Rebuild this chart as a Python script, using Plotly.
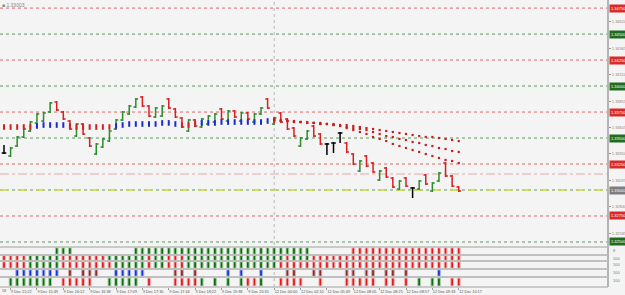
import plotly.graph_objects as go

# ---------------- data ----------------
bar_open = [1.33356,1.33327,1.33423,1.33510,1.33568,1.33645,1.33664,1.33750,1.33847,1.33750,
            1.33664,1.33519,1.33635,1.33500,1.33346,1.33414,1.33471,1.33587,1.33673,1.33731,
            1.33798,1.33895,1.33808,1.33702,1.33712,1.33875,1.33779,1.33693,1.33568,1.33673,
            1.33606,1.33635,1.33654,1.33779,1.33664,1.33760,1.33664,1.33741,1.33654,1.33731,
            1.33875,1.33635,1.33741,1.33683,1.33596,1.33423,1.33491,1.33616,1.33539,1.33443,
            1.33452,1.33548,1.33452,1.33346,1.33183,1.33327,1.33260,1.33096,1.33212,1.33115,
            1.33010,1.33115,1.33019,1.33010,1.33144,1.32990,1.33087,1.33260,1.33135,1.33029]
bar_high = [1.33433,1.33414,1.33519,1.33596,1.33664,1.33741,1.33750,1.33847,1.33856,1.33760,
            1.33673,1.33645,1.33645,1.33510,1.33452,1.33500,1.33577,1.33683,1.33760,1.33818,
            1.33885,1.33904,1.33818,1.33798,1.33818,1.33885,1.33789,1.33702,1.33683,1.33683,
            1.33693,1.33722,1.33741,1.33789,1.33770,1.33770,1.33750,1.33750,1.33741,1.33798,
            1.33885,1.33702,1.33750,1.33693,1.33606,1.33510,1.33577,1.33625,1.33548,1.33452,
            1.33462,1.33558,1.33462,1.33356,1.33289,1.33337,1.33269,1.33192,1.33221,1.33125,
            1.33096,1.33125,1.33029,1.33096,1.33154,1.33077,1.33173,1.33269,1.33144,1.33038]
bar_low = [1.33346,1.33317,1.33414,1.33500,1.33558,1.33635,1.33654,1.33741,1.33760,1.33673,
           1.33577,1.33510,1.33529,1.33414,1.33337,1.33404,1.33462,1.33577,1.33664,1.33722,
           1.33789,1.33798,1.33702,1.33693,1.33702,1.33779,1.33693,1.33596,1.33558,1.33606,
           1.33596,1.33625,1.33645,1.33673,1.33654,1.33693,1.33654,1.33673,1.33645,1.33722,
           1.33779,1.33625,1.33645,1.33577,1.33510,1.33414,1.33481,1.33510,1.33433,1.33337,
           1.33356,1.33452,1.33356,1.33240,1.33173,1.33221,1.33164,1.33087,1.33115,1.33019,
           1.33000,1.33029,1.32923,1.33000,1.33048,1.32981,1.33077,1.33125,1.33029,1.32981]
bar_close = [1.33356,1.33404,1.33510,1.33587,1.33654,1.33731,1.33741,1.33837,1.33770,1.33683,
             1.33587,1.33635,1.33539,1.33423,1.33443,1.33491,1.33568,1.33673,1.33750,1.33808,
             1.33875,1.33808,1.33712,1.33789,1.33808,1.33789,1.33702,1.33606,1.33673,1.33616,
             1.33683,1.33712,1.33731,1.33683,1.33760,1.33702,1.33741,1.33683,1.33731,1.33789,
             1.33789,1.33693,1.33654,1.33587,1.33519,1.33500,1.33568,1.33519,1.33443,1.33443,
             1.33452,1.33548,1.33366,1.33250,1.33279,1.33231,1.33173,1.33183,1.33125,1.33029,
             1.33087,1.33038,1.33019,1.33087,1.33058,1.33067,1.33164,1.33135,1.33038,1.32990]

# moving average (bars 0..41) and its trend colour
ma_line = [1.33606,1.33606,1.33606,1.33606,1.33606,1.33616,1.33625,1.33625,1.33625,1.33625,
           1.33616,1.33606,1.33606,1.33606,1.33606,1.33606,1.33606,1.33616,1.33625,1.33635,
           1.33635,1.33635,1.33635,1.33635,1.33645,1.33645,1.33635,1.33625,1.33625,1.33635,
           1.33645,1.33645,1.33645,1.33654,1.33654,1.33654,1.33654,1.33654,1.33654,1.33654,
           1.33664,1.33673]
ma_trend = ["dn","dn","dn","dn","dn","up","up","up","up","up",
            "dn","dn","dn","dn","dn","dn","dn","up","up","up",
            "up","up","up","up","up","up","up","dn","dn","dn",
            "up","up","up","up","up","up","up","up","up","up",
            "up","dn"]

# projected fan (bars 41..69)
fan_start = 41
fan_top = [1.33673,1.33673,1.33664,1.33664,1.33654,1.33654,1.33645,1.33645,1.33635,1.33635,
           1.33625,1.33625,1.33616,1.33606,1.33596,1.33587,1.33577,1.33568,1.33558,1.33548,
           1.33539,1.33529,1.33519,1.33510,1.33510,1.33500,1.33491,1.33481,1.33471]
fan_mid = [1.33673,1.33664,1.33664,1.33654,1.33654,1.33645,1.33645,1.33635,1.33635,1.33625,
           1.33616,1.33606,1.33596,1.33587,1.33577,1.33558,1.33539,1.33519,1.33510,1.33491,
           1.33481,1.33462,1.33452,1.33433,1.33423,1.33404,1.33394,1.33375,1.33366]
fan_bot = [1.33673,1.33664,1.33664,1.33654,1.33654,1.33645,1.33645,1.33635,1.33635,1.33625,
           1.33616,1.33596,1.33577,1.33558,1.33539,1.33510,1.33491,1.33471,1.33443,1.33423,
           1.33404,1.33385,1.33366,1.33346,1.33327,1.33308,1.33289,1.33279,1.33260]

levels = [1.3475, 1.3450, 1.3425, 1.3400, 1.3375, 1.3350, 1.3325, 1.3300, 1.3275, 1.3250]
level_kind = ["r", "g", "r", "g", "r", "g", "r", "g", "r", "g"]
current_price = 1.33000
pivot_line = 1.33154
price_ticks = [1.34620, 1.34365, 1.34110, 1.33855, 1.33605, 1.33350, 1.33095,
               1.32840, 1.32585]

label_bars = [1, 5, 9, 13, 17, 21, 25, 29, 33, 37, 41, 45, 49, 53, 57, 61, 65, 69]
time_labels = ["9 Dec 15:22", "9 Dec 15:49", "9 Dec 16:12", "9 Dec 16:38", "9 Dec 17:09",
               "9 Dec 17:30", "9 Dec 17:44", "9 Dec 18:22", "9 Dec 19:38", "9 Dec 20:31",
               "12 Dec 00:00", "12 Dec 02:10", "12 Dec 05:49", "12 Dec 08:05", "12 Dec 08:25",
               "12 Dec 08:57", "12 Dec 09:33", "12 Dec 10:17"]
day_break_bar = 41

# indicator rows: one char per bar (G green, R red, B blue, M maroon, . none)
row1 = "".join(["........GG", "G.........", "GGGGGGGGGG", "GGGGGGGGGG", "GGGGGGG...", "...RRRRRRR", "RRRRRRRRRR"])
row2 = "".join(["RRRRGGGGGR", "RRRRRRGGGG", "GGRGGRRRGG", "GGGGGGGGGG", "GGGRGGGRRR", "RRRRRRRRRR", "RRRRRRRRRR"])
row3 = "".join(["RRRRGGGGGR", "RRRRRRRGGG", "GGRGGRRRGG", "GGGGGGGGGG", "GGRRRRRRRR", "RRRRRRRRRR", "RRRRRRRRRR"])
row4 = "".join(["..BBBBBBB.", "M.MMM..BBB", "BB....MM.M", "....B.B..B", "...MM..MM.", "..MM.MM.MM", ".M....B..."])
row5 = "".join([".GGGGGGG.R", "RRRR..GGGG", "G.R...RRRR", "G.G.G.GRRG", "..RRRR..R.", "..RRRRR.RR", ".R.G.GG.RR"])
rows = [row1, row2, row3, row4, row5]
row_labels = ["8", "100", "100", "100", "100"]

# ---------------- layout helpers ----------------
W, H = 625, 295
def py(p):
    return 1 - p / H

PLOT_R = 608 / W
bars = list(range(len(bar_open)))
BG = "#f4f4f4"
FONT = "Liberation Sans"
LAB = 4

fig = go.Figure()

# OHLC bars split by direction
def pick(cond):
    ix = [i for i in bars if cond(i)]
    return (ix, [bar_open[i] for i in ix], [bar_high[i] for i in ix],
            [bar_low[i] for i in ix], [bar_close[i] for i in ix])

for cond, col in [(lambda i: bar_close[i] > bar_open[i], "#2e8b2e"),
                  (lambda i: bar_close[i] < bar_open[i], "#d82020"),
                  (lambda i: bar_close[i] == bar_open[i], "#000000")]:
    x, o, h, l, c = pick(cond)
    fig.add_trace(go.Ohlc(x=x, open=o, high=h, low=l, close=c,
                          increasing=dict(line=dict(color=col, width=1.5)),
                          decreasing=dict(line=dict(color=col, width=1.5)),
                          tickwidth=0.35, hoverinfo="skip", showlegend=False,
                          xaxis="x", yaxis="y"))

# moving average dots
for tr, col in [("dn", "#d02020"), ("up", "#1a2ad0")]:
    xs = [i for i in range(len(ma_line)) if ma_trend[i] == tr]
    fig.add_trace(go.Scatter(x=xs, y=[ma_line[i] for i in xs], mode="markers",
                             marker=dict(symbol="line-ns", size=4,
                                         line=dict(width=2, color=col)),
                             hoverinfo="skip", showlegend=False))

# fan of projected lines
for series in [fan_top, fan_mid, fan_bot]:
    fx = [fan_start + k for k in range(len(series))]
    fig.add_trace(go.Scatter(x=fx, y=series, mode="markers",
                             marker=dict(symbol="square", size=2.2, color="#c81e1e",
                                         line=dict(width=0)),
                             hoverinfo="skip", showlegend=False))

# indicator panes
pane_px = [(247, 255), (255, 261), (261, 269), (269, 277), (277, 287)]
code_col = {"G": ("#0f6b0f", "#a6d2a6"), "R": ("#e31a1a", "#f6b8b8"),
            "B": ("#1432d6", "#aab6f0"), "M": ("#8a2b2b", "#d4adad")}
for k, row in enumerate(rows):
    yname = "y%d" % (k + 2)
    for code, (c, lc) in code_col.items():
        xs = [i for i, ch in enumerate(row) if ch == code]
        if not xs:
            continue
        fig.add_trace(go.Bar(x=xs, y=[0.8] * len(xs), base=0.1, width=0.42,
                             marker=dict(color=c, line=dict(color=lc, width=1)),
                             hoverinfo="skip", showlegend=False,
                             xaxis="x", yaxis=yname))

shapes = []
annotations = []
# level lines
for lv, kind in zip(levels, level_kind):
    col = "#e06666" if kind == "r" else "#5a9a5a"
    shapes.append(dict(type="line", xref="x domain", x0=0, x1=1, yref="y", y0=lv, y1=lv,
                       line=dict(color=col, width=1, dash="dot"), layer="below"))
    if lv == current_price:
        continue
    annotations.append(dict(xref="paper", x=PLOT_R + 0.002, yref="y", y=lv,
                            xanchor="left", yanchor="middle", text="%.5f" % lv,
                            showarrow=False, font=dict(size=LAB, color="white", family=FONT),
                            bgcolor="#d92b2b" if kind == "r" else "#1f6e1f",
                            borderpad=1))
# pivot dash-dot line
shapes.append(dict(type="line", xref="x domain", x0=0, x1=1, yref="y", y0=pivot_line, y1=pivot_line,
                   line=dict(color="#e8a6a6", width=1, dash="dashdot"), layer="below"))
# current price line
shapes.append(dict(type="line", xref="x domain", x0=0, x1=1, yref="y", y0=current_price, y1=current_price,
                   line=dict(color="#c8d84a", width=1.5, dash="dash"), layer="below"))
annotations.append(dict(xref="paper", x=PLOT_R + 0.002, yref="y", y=current_price,
                        xanchor="left", yanchor="middle", text="%.5f" % current_price,
                        showarrow=False, font=dict(size=LAB, color="white", family=FONT),
                        bgcolor="#7d7d7d", borderpad=1))
# day separator
shapes.append(dict(type="line", xref="x", x0=day_break_bar, x1=day_break_bar, yref="paper",
                   y0=py(287), y1=1, line=dict(color="#b8b8b8", width=1, dash="dot"), layer="below"))
# right axis separator line
shapes.append(dict(type="line", xref="paper", x0=PLOT_R, x1=PLOT_R, yref="paper", y0=py(287), y1=1,
                   line=dict(color="#b4b4b4", width=2)))
# pane borders
for (a, b) in pane_px:
    for p in (a, b):
        shapes.append(dict(type="line", xref="paper", x0=0, x1=PLOT_R, yref="paper",
                           y0=py(p), y1=py(p), line=dict(color="#bdbdbd", width=1.5)))
for (a, b), lab in zip(pane_px, row_labels):
    annotations.append(dict(xref="paper", x=PLOT_R + 0.004, yref="paper", y=py(a + 3),
                            xanchor="left", yanchor="middle", text=lab, showarrow=False,
                            font=dict(size=LAB, color="#777", family=FONT)))
annotations.append(dict(xref="paper", x=0.0, yref="paper", y=1.0, xanchor="left", yanchor="top",
                        text="■ 1.33003", showarrow=False,
                        font=dict(size=5, color="#888", family=FONT)))
annotations.append(dict(xref="paper", x=0.0, yref="paper", y=py(291), xanchor="left", yanchor="middle",
                        text="58", showarrow=False, font=dict(size=3.8, color="#666", family=FONT)))

layout = dict(
    width=W, height=H, margin=dict(l=0, r=0, t=0, b=0, autoexpand=False),
    paper_bgcolor=BG, plot_bgcolor=BG, barmode="overlay", showlegend=False,
    font=dict(family=FONT, size=5, color="#555"),
    xaxis=dict(domain=[0, PLOT_R], range=[-0.607, 91.65], anchor="free", position=py(287),
               tickvals=label_bars, ticktext=time_labels, ticks="outside", ticklen=2,
               tickcolor="#999", tickfont=dict(size=3.8, color="#555", family=FONT),
               tickangle=0, automargin=False,
               ticklabelposition="outside right", showgrid=False, zeroline=False,
               showline=False, rangeslider=dict(visible=False), fixedrange=True),
    yaxis=dict(domain=[py(245), 1], range=[1.324709, 1.348278], side="right", anchor="x",
               tickvals=price_ticks, ticktext=["%.5f" % t for t in price_ticks],
               ticks="outside", ticklen=2, tickcolor="#999", automargin=False,
               tickfont=dict(size=LAB, color="#888", family=FONT),
               showgrid=False, zeroline=False, showline=False),
    shapes=shapes, annotations=annotations,
)
for k, (a, b) in enumerate(pane_px):
    layout["yaxis%d" % (k + 2)] = dict(domain=[py(b), py(a)], range=[0, 1], anchor="x",
                                       showticklabels=False, showgrid=False, zeroline=False,
                                       ticks="", automargin=False)
fig.update_layout(**layout)
fig.write_html("out.html")
